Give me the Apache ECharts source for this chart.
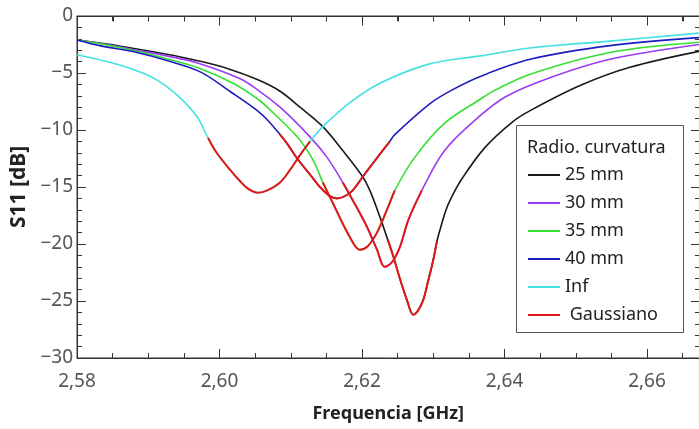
<!DOCTYPE html>
<html>
<head>
<meta charset="utf-8">
<script src="https://cdn.jsdelivr.net/npm/echarts@6/dist/echarts.min.js"></script>
<style>
html,body{margin:0;padding:0;background:#fff;}
#c{width:699px;height:429px;}
</style>
</head>
<body>
<div id="c"></div>
<script>
// ---- data (frequency in GHz, S11 in dB) ----
const f25 = [2.5800,2.5842,2.5884,2.5926,2.5968,2.6011,2.6054,2.6085,2.6113,2.6145,2.6173,2.6201,2.6211,2.6225,2.6236,2.6244,2.6253,2.6263,2.6272,2.6279,2.6286,2.6293,2.6300,2.6305,2.6312,2.6318,2.6324,2.6340,2.6373,2.6411,2.6436,2.6506,2.6576,2.6673];
const s25 = [-2.1,-2.45,-2.9,-3.35,-3.9,-4.6,-5.6,-6.6,-8.0,-9.7,-11.8,-14.1,-15.3,-17.6,-19.6,-21.1,-23.0,-24.9,-26.2,-25.8,-24.9,-23.2,-21.4,-19.8,-18.2,-17.0,-16.1,-14.3,-11.5,-9.3,-8.3,-6.1,-4.5,-3.1];

const f30 = [2.5800,2.5842,2.5884,2.5926,2.5968,2.6029,2.6054,2.6085,2.6127,2.6151,2.6173,2.6190,2.6207,2.6221,2.6232,2.6242,2.6253,2.6265,2.6284,2.6316,2.6363,2.6401,2.6460,2.6548,2.6673];
const s30 = [-2.1,-2.5,-3.0,-3.5,-4.1,-5.5,-6.5,-8.0,-10.6,-12.4,-14.6,-16.5,-18.5,-20.5,-22.0,-21.6,-20.3,-17.9,-15.3,-11.8,-8.9,-7.1,-5.5,-3.8,-2.5];

const f35 = [2.5800,2.5842,2.5884,2.5926,2.5968,2.6019,2.6054,2.6067,2.6109,2.6131,2.6145,2.6159,2.6183,2.6197,2.6208,2.6221,2.6235,2.6246,2.6274,2.6316,2.6366,2.6387,2.6436,2.6548,2.6673];
const s35 = [-2.1,-2.55,-3.1,-3.75,-4.5,-5.9,-7.3,-8.0,-10.6,-12.6,-14.6,-16.4,-19.4,-20.5,-20.2,-19.0,-17.0,-15.3,-12.4,-9.4,-7.3,-6.5,-5.1,-3.2,-2.3];

const f40 = [2.5800,2.5832,2.5884,2.5926,2.5973,2.6019,2.6053,2.6067,2.6085,2.6095,2.6109,2.6127,2.6141,2.6155,2.6165,2.6176,2.6187,2.6201,2.6218,2.6239,2.6246,2.6295,2.6326,2.6366,2.6436,2.6548,2.6673];
const s40 = [-2.1,-2.6,-3.2,-3.9,-4.9,-6.8,-8.3,-9.1,-10.4,-11.2,-12.5,-13.9,-15.0,-15.8,-16.0,-15.8,-15.3,-14.1,-12.7,-11.0,-10.4,-7.7,-6.5,-5.3,-3.8,-2.6,-1.9];

const fInf = [2.5800,2.5842,2.5884,2.5912,2.5940,2.5968,2.5984,2.5996,2.6015,2.6029,2.6039,2.6054,2.6067,2.6085,2.6099,2.6113,2.6127,2.6145,2.6183,2.6225,2.6295,2.6366,2.6436,2.6548,2.6673];
const sInf = [-3.4,-4.0,-4.8,-5.6,-6.9,-8.8,-10.7,-12.0,-13.5,-14.5,-15.1,-15.5,-15.3,-14.6,-13.5,-12.2,-11.0,-9.7,-7.6,-5.9,-4.2,-3.5,-2.8,-2.2,-1.5];

// Gaussian-fit (red) frequency ranges for each curve
const redRange25 = [2.6236, 2.6305];
const redRange30 = [2.6173, 2.6284];
const redRange35 = [2.6145, 2.6246];
const redRange40 = [2.6085, 2.6239];
const redRangeInf = [2.5984, 2.6127];

const seriesNames = ['25 mm','30 mm','35 mm','40 mm','Inf',' Gaussiano'];
const legendTitle = 'Radio. curvatura';
const xTicks = [2.58, 2.60, 2.62, 2.64, 2.66];
const yTicks = [0, -5, -10, -15, -20, -25, -30];

const colors = ['#1a1a1a','#9a3cf0','#33e033','#1c1cc0','#45e0e0','#e01818'];

function pairs(f, s) { return f.map((x, i) => [x, s[i]]); }
function sub(f, s, r) { return pairs(f, s).filter(p => p[0] >= r[0] - 1e-9 && p[0] <= r[1] + 1e-9); }

const FONT = 'Noto Sans';
const X_MIN = 2.58, X_MAX = 2.68;
const GRID = {left: 77, top: 16, width: 712.5, height: 342};
const chart = echarts.init(document.getElementById('c'), null, {renderer: 'canvas'});

function line(name, data, color, width, z) {
  return {
    name: name, type: 'line', data: data, symbol: 'none', showSymbol: false,
    smooth: 0.35, lineStyle: {color: color, width: width}, itemStyle: {color: color},
    z: z, animation: false, xAxisIndex: 0, yAxisIndex: 0, clip: true
  };
}

function axisParts(split) {
  return {
    axisLine: {show: true, onZero: false, lineStyle: {color: '#333', width: 1}},
    axisTick: {show: true, inside: true, length: 9, lineStyle: {color: '#333'}},
    minorTick: {show: true, splitNumber: split, length: 5, lineStyle: {color: '#333'}},
    splitLine: {show: false}
  };
}

// top frame (line + inward ticks), placed on its own layer
const frame = [];
const yTop = GRID.top + 0.5;
frame.push({type: 'line', zlevel: 1, z: 100, silent: true,
  shape: {x1: GRID.left, y1: yTop, x2: GRID.left + GRID.width, y2: yTop}, style: {stroke: '#333', lineWidth: 1}});
for (let k = 0; k <= 20; k++) {
  const xp = Math.round(GRID.left + (k * 0.005) / (X_MAX - X_MIN) * GRID.width) + 0.5;
  frame.push({type: 'line', zlevel: 1, z: 100, silent: true,
    shape: {x1: xp, y1: yTop, x2: xp, y2: yTop + ((k % 4 === 0) ? 9 : 5)}, style: {stroke: '#333', lineWidth: 1}});
}

const option = {
  animation: false,
  backgroundColor: '#fff',
  grid: Object.assign({containLabel: false, outerBoundsMode: 'none', show: true, borderColor: '#333', borderWidth: 1, backgroundColor: 'transparent'}, GRID),
  xAxis: [
    Object.assign({
      type: 'value', min: X_MIN, max: X_MAX, interval: 0.02, position: 'bottom',
      name: 'Frequencia [GHz]', nameLocation: 'middle', nameGap: 47,
      nameTextStyle: {fontFamily: FONT, fontWeight: 'bold', fontSize: 18, color: '#222', padding: [0, 90, 0, 0]},
      axisLabel: {
        fontFamily: FONT, fontSize: 19, color: '#555', margin: 14,
        formatter: v => xTicks.some(t => Math.abs(t - v) < 1e-6) ? v.toFixed(2).replace('.', ',') : ''
      }
    }, axisParts(4)),
    Object.assign({
      type: 'value', min: X_MIN, max: X_MAX, interval: 0.02, position: 'top',
      axisLabel: {show: false}
    }, axisParts(4))
  ],
  yAxis: [
    Object.assign({
      type: 'value', min: -30, max: 0, interval: 5, position: 'left',
      name: 'S11 [dB]', nameLocation: 'middle', nameGap: 44, nameRotate: 90,
      nameTextStyle: {fontFamily: FONT, fontWeight: 'bold', fontSize: 21, color: '#222'},
      axisLabel: {
        fontFamily: FONT, fontSize: 19, color: '#555', margin: 4,
        formatter: v => yTicks.includes(v) ? String(v).replace('-', '\u2212') : ''
      }
    }, axisParts(5)),
    Object.assign({
      type: 'value', min: -30, max: 0, interval: 5, position: 'right', offset: -89.5,
      axisLabel: {show: false}
    }, axisParts(5))
  ],
  legend: {
    show: true, orient: 'vertical', left: 528, top: 165, padding: 0, z: 5,
    icon: 'rect', itemWidth: 32, itemHeight: 2, itemGap: 8,
    data: seriesNames,
    textStyle: {fontFamily: FONT, fontSize: 18, color: '#222', lineHeight: 20}
  },
  graphic: [
    {type: 'rect', shape: {x: 516.5, y: 125.5, width: 167, height: 207}, style: {fill: '#fff', stroke: '#555', lineWidth: 1}, z: 4},
    {type: 'text', x: 527, y: 148, style: {text: legendTitle, fontFamily: FONT, fontSize: 18, fill: '#222', verticalAlign: 'middle'}, z: 6}
  ].concat(frame),
  series: [
    line(seriesNames[0], pairs(f25, s25), colors[0], 1.6, 2),
    line(seriesNames[1], pairs(f30, s30), colors[1], 1.6, 2),
    line(seriesNames[2], pairs(f35, s35), colors[2], 1.6, 2),
    line(seriesNames[3], pairs(f40, s40), colors[3], 1.6, 2),
    line(seriesNames[4], pairs(fInf, sInf), colors[4], 1.6, 2),
    line(seriesNames[5], sub(fInf, sInf, redRangeInf), colors[5], 2, 3),
    line(seriesNames[5], sub(f40, s40, redRange40), colors[5], 2, 3),
    line(seriesNames[5], sub(f35, s35, redRange35), colors[5], 2, 3),
    line(seriesNames[5], sub(f30, s30, redRange30), colors[5], 2, 3),
    line(seriesNames[5], sub(f25, s25, redRange25), colors[5], 2, 3)
  ]
};
chart.setOption(option);
</script>
</body>
</html>
